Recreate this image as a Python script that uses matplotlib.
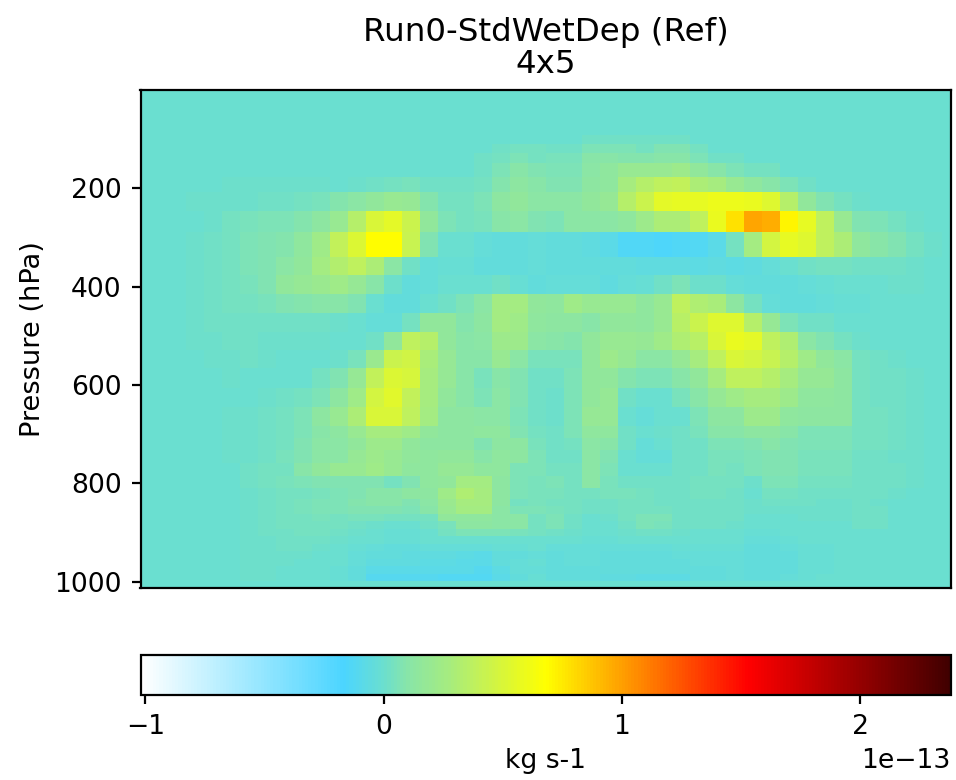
import numpy as np
import matplotlib
matplotlib.use("Agg")
import matplotlib.pyplot as plt
from matplotlib.colors import LinearSegmentedColormap, Normalize

TITLE = "Run0-StdWetDep (Ref)\n4x5"
YLABEL = "Pressure (hPa)"
CBAR_LABEL = "kg s-1"
PRESSURE_TICKS = [200, 400, 600, 800, 1000]
CBAR_TICKS = [-1e-13, 0, 1e-13, 2e-13]
VMIN, VMAX = -1.02e-13, 2.38e-13
SCALE = 1e-15

lat_edges = [-90] + list(range(-88, 89, 4)) + [90]
p_edges = [0.01, 93, 111.3, 129.5, 149.8, 178.3, 208.7, 247.3, 290, 340.7, 377.3, 415.8,
           454.4, 493, 529.5, 566, 606.7, 645, 683.9, 708.2, 732.6, 759, 785.4, 809.8,
           831, 846.3, 862.5, 876.8, 892, 907.2, 922.4, 937.6, 952.9, 968, 983.4, 998.6, 1013.25]

# zonal values, in units of 1e-15 kg/s, top row first (columns south to north)
rows = [
"0 0 0 0 0 0 0 0 0 0 0 0 0 0 0 0 0 0 0 0 0 0 0 0 0 0 0 0 0 0 0 0 0 0 0 0 0 0 0 0 0 0 0 0 0 0",
"0 0 0 0 0 0 0 0 0 0 0 0 0 0 0 0 0 0 0 0 0 0 0 0 0 2 2 2 2 2 2 0 0 0 0 0 0 0 0 0 0 0 0 0 0 0",
"0 0 0 0 0 0 0 0 0 0 0 0 0 0 0 0 0 0 0 0 2 4 3 2 2 6 6 6 4 7 7 4 0 0 0 0 0 0 0 0 0 0 0 0 0 0",
"0 0 0 0 0 0 0 0 0 0 0 0 0 0 0 0 0 0 0 2 3 6 4 5 5 10 10 9 9 10 10 6 2 2 0 0 0 0 0 0 0 0 0 0 0 0",
"0 0 0 0 0 0 0 0 0 0 0 0 0 0 0 0 0 0 0 2 6 10 7 6 6 11 14 20 20 20 22 16 10 6 4 3 0 0 0 0 0 0 0 0 0 0",
"0 0 0 0 0 1 1 1 1 1 1 0 1 2 3 5 2 2 2 3 9 13 10 8 8 13 14 28 34 38 39 30 28 20 14 10 6 2 0 0 0 0 0 0 0 0",
"0 0 0 1 1 1 1 2 2 4 5 9 11 16 20 18 9 4 3 6 13 16 12 11 11 16 18 34 43 55 57 57 59 60 58 53 34 16 7 3 1 0 0 0 0 0",
"0 0 0 0 1 3 5 6 6 9 13 19 34 50 55 43 16 6 3 5 10 11 8 6 11 11 11 14 22 30 30 38 58 78 98 95 71 57 38 20 8 6 4 1 0 0",
"0 0 0 1 2 4 6 8 9 14 24 40 52 69 69 42 7 -1 -1 -3 -5 -5 -3 -5 -5 -6 -9 -14 -14 -15 -14 -13 -8 4 26 47 57 53 38 30 14 10 8 3 1 0",
"0 0 0 1 2 3 6 8 11 15 26 33 38 30 11 2 -3 -2 -2 -4 -4 -4 -3 -5 -5 -5 -5 -5 -6 -6 -6 -7 -6 -7 -6 -3 0 2 4 4 2 2 2 1 0 0",
"0 0 0 1 2 4 5 8 15 18 21 23 18 10 1 -5 -3 -1 -1 -1 2 -2 -4 -3 -3 -3 -6 -3 -2 2 6 1 1 -3 -5 -5 -5 -3 -2 -1 -1 -1 1 1 0 0",
"0 0 0 1 2 3 4 5 8 9 10 10 8 0 -4 -4 -1 2 6 11 26 26 16 14 23 19 19 20 14 19 38 32 29 13 4 -3 -4 -4 -3 -2 -2 -1 -1 0 0 0",
"0 0 0 1 2 2 2 2 2 2 2 1 0 -3 -3 4 16 16 9 13 26 24 14 13 13 10 16 16 14 20 36 43 53 53 34 18 6 2 2 0 0 0 0 0 0 0",
"0 0 0 1 1 2 2 1 1 1 1 0 0 2 16 38 34 16 10 11 22 22 11 10 9 16 20 20 18 23 31 36 50 58 55 38 31 12 7 3 1 0 0 0 0 0",
"0 0 0 0 1 1 2 1 0 0 0 1 5 21 44 46 29 18 10 10 20 11 5 5 5 16 22 18 11 11 18 28 38 50 47 42 34 24 16 12 3 2 1 0 0 0",
"0 0 0 0 0 1 0 0 0 0 3 8 18 40 52 49 28 18 10 5 10 7 2 2 6 16 16 9 6 6 10 16 28 38 38 34 28 18 18 13 3 2 2 1 0 0",
"0 0 0 0 0 0 0 1 2 4 6 13 24 47 54 40 28 16 10 6 11 7 2 1 6 16 18 2 0 0 5 10 18 24 28 28 22 14 14 13 3 2 2 1 0 0",
"0 0 0 0 0 1 1 2 4 6 13 20 30 50 50 38 26 13 13 11 11 6 2 1 6 18 18 -1 -3 -1 0 6 13 13 22 22 14 13 13 13 4 3 2 1 0 0",
"0 0 0 0 0 1 1 2 4 6 10 13 20 28 28 24 16 13 13 14 14 8 3 2 6 14 14 2 -1 1 2 5 10 10 13 13 10 6 6 6 3 3 2 1 0 0",
"0 0 0 0 0 1 1 2 4 7 12 12 16 22 22 16 13 13 13 8 13 13 5 2 3 12 10 2 -3 -1 2 2 6 6 8 10 8 6 6 6 3 3 2 1 0 0",
"0 0 0 0 0 1 1 2 5 7 11 12 18 22 20 15 14 16 16 10 14 13 6 2 2 12 8 0 -3 -3 2 2 5 5 6 7 7 5 5 5 2 2 1 1 0 0",
"0 0 0 0 0 0 2 3 4 10 15 20 20 23 20 14 14 18 18 14 14 6 6 3 3 11 6 0 -1 -1 2 2 5 4 6 7 7 5 5 5 2 2 2 1 0 0",
"0 0 0 0 0 0 2 3 5 6 8 8 8 8 3 7 14 16 26 26 13 6 5 6 4 11 5 2 2 2 2 3 4 3 1 6 6 3 3 3 2 2 2 1 0 0",
"0 0 0 0 0 0 1 2 4 4 5 6 8 10 10 13 13 24 32 28 13 6 5 5 4 4 5 5 4 2 2 3 3 2 0 4 4 2 2 2 2 2 1 0 0 0",
"0 0 0 0 0 0 1 2 4 5 6 6 9 10 10 8 12 21 27 27 13 4 5 4 3 2 2 4 3 2 2 2 2 2 1 2 2 2 1 1 2 1 0 0 0 0",
"0 0 0 0 0 0 1 2 4 5 6 6 7 8 7 6 10 20 26 26 11 6 6 5 3 2 2 3 4 4 2 2 2 2 1 1 1 1 1 1 2 2 0 0 0 0",
"0 0 0 0 0 0 1 2 3 4 5 4 5 5 3 3 4 16 14 14 11 11 4 6 2 0 1 3 6 6 2 2 2 2 0 0 0 1 1 1 2 2 0 0 0 0",
"0 0 0 0 0 0 1 2 3 4 4 3 2 1 -1 -1 2 5 13 13 11 11 4 6 2 0 0 2 6 5 2 2 2 1 -1 -1 0 0 0 0 2 2 0 0 0 0",
"0 0 0 0 0 0 1 2 2 3 3 2 1 0 -2 -2 -1 4 6 6 6 5 4 2 1 -1 -1 1 2 2 1 0 0 0 -2 -2 -1 -1 -1 -1 0 0 0 0 0 0",
"0 0 0 0 0 0 1 1 2 2 2 1 0 -1 -2 -2 -1 -1 0 0 0 0 0 -1 -1 -2 -2 -1 -1 -1 -1 -1 -1 -1 -3 -3 -2 -1 -1 -1 0 0 0 0 0 0",
"0 0 0 0 0 0 1 1 2 2 1 -1 -2 -3 -4 -4 -3 -3 -3 -3 -2 -2 -1 -3 -3 -3 -3 -3 -3 -3 -2 -2 -2 -2 -4 -4 -3 -2 -2 -1 0 0 0 0 0 0",
"0 0 0 0 0 0 1 1 1 1 0 -1 -3 -5 -5 -6 -6 -6 -7 -8 -5 -4 -3 -4 -3 -3 -4 -4 -4 -4 -3 -3 -3 -3 -5 -5 -4 -2 -2 -1 0 0 0 0 0 0",
"0 0 0 0 0 0 1 1 1 0 0 -1 -3 -6 -6 -6 -7 -7 -8 -9 -5 -3 -2 -4 -3 -3 -5 -5 -5 -5 -4 -3 -3 -3 -5 -5 -4 -2 -2 -1 0 0 0 0 0 0",
"0 0 0 0 0 0 1 1 0 0 0 -2 -4 -8 -8 -8 -8 -8 -9 -11 -7 -3 -3 -5 -4 -4 -5 -5 -5 -5 -5 -4 -4 -3 -4 -5 -4 -2 -2 -1 0 0 0 0 0 0",
"0 0 0 0 0 0 1 1 0 0 0 -2 -5 -11 -11 -11 -11 -12 -13 -13 -9 -4 -2 -5 -4 -5 -6 -6 -7 -7 -7 -5 -4 -3 -4 -4 -3 -2 -1 0 0 0 0 0 0 0",
"0 0 0 0 0 0 0 0 0 0 0 0 0 0 0 0 0 0 0 0 0 0 0 0 0 0 0 0 0 0 0 0 0 0 0 0 0 0 0 0 0 0 0 0 0 0",
]
values = np.array([[float(v) for v in r.split()] for r in rows]) * SCALE

cmap = LinearSegmentedColormap.from_list(
    "WhGrYlRd",
    [(0.0, "#ffffff"), (0.25, "#4bd5ff"), (0.30, "#6bdfce"), (0.329, "#88e5a8"),
     (0.379, "#a5ec80"), (0.42, "#c5f255"), (0.5, "#ffff00"),
     (0.75, "#ff0000"), (1.0, "#400000")], N=256)

W, H = 956, 780
fig = plt.figure(figsize=(W / 200, H / 200), dpi=200)
ax = fig.add_axes([140.5 / W, 1 - 588.3 / H, 810.5 / W, 498.6 / H])
mesh = ax.pcolormesh(lat_edges, p_edges, values, cmap=cmap,
                     norm=Normalize(VMIN, VMAX), shading="flat")
ax.set_xlim(-90, 90)
ax.set_ylim(1013.25, 0.01)
ax.set_xticks([])
ax.set_yticks(PRESSURE_TICKS)
ax.tick_params(labelsize=9.6, length=3.3, pad=3.5)
ax.set_ylabel(YLABEL, fontsize=9.8, labelpad=3)
ax.set_title(TITLE, fontsize=11.7, pad=6, linespacing=1.05)

cax = fig.add_axes([140.5 / W, 1 - 695 / H, 810.5 / W, 40 / H])
cb = fig.colorbar(mesh, cax=cax, orientation="horizontal", ticks=CBAR_TICKS)
cb.ax.tick_params(labelsize=9.6, length=3.3, pad=3.5)
cb.ax.xaxis.get_offset_text().set_fontsize(9.6)
cb.set_label(CBAR_LABEL, fontsize=9.6, labelpad=3)
fig.savefig("out.png", dpi=200)
